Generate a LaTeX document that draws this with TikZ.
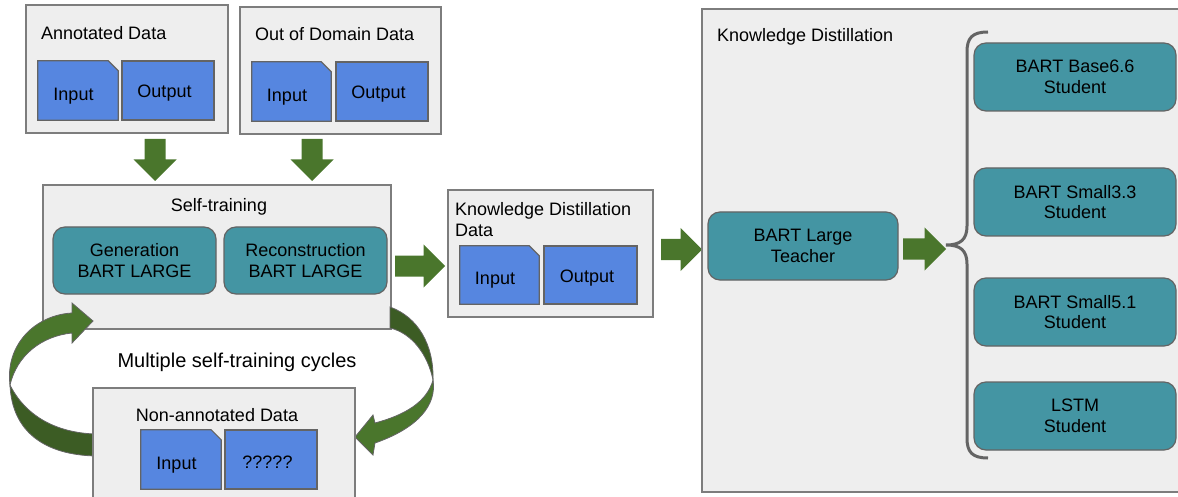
\documentclass[tikz,border=0pt]{standalone}
\usepackage{fontspec}
\setmainfont{Liberation Sans}
\definecolor{panelfill}{RGB}{238,238,238}
\definecolor{panelline}{RGB}{125,125,125}
\definecolor{docblue}{RGB}{86,134,224}
\definecolor{boxline}{RGB}{100,100,100}
\definecolor{tealbox}{RGB}{68,149,163}
\definecolor{agreen}{RGB}{74,118,44}
\definecolor{dgreen}{RGB}{60,92,36}
\definecolor{bracegrey}{RGB}{100,100,100}

% document-shaped box: name, center, width, height, text
\newcommand\mydocnode[5]{%
  \node[inner sep=0pt,minimum width=#3,minimum height=#4] (#1) at (#2) {};
  \filldraw[docline] (#1.north west) -- ([xshift=-10pt]#1.north east) -- ([yshift=-10pt]#1.north east)
    -- (#1.south east) -- (#1.south west) -- cycle;
  \node[inner sep=0pt] (#1t) at ([xshift=-4.5pt,yshift=-5.5pt]#1) {#5};
}
% plain blue box: name, center, width, height, text
\newcommand\myoutnode[5]{%
  \node[docline,inner sep=0pt,minimum width=#3,minimum height=#4] (#1) at (#2) {};
  \node[inner sep=0pt] (#1t) at ([xshift=-3.5pt,yshift=-3pt]#1) {#5};
}
% right block arrow: x1, x2 (tip), y
\newcommand\myrarrow[3]{%
  \fill[agreen] (#1,#3-10.5) -- (#2-21.5,#3-10.5) -- (#2-21.5,#3-21.5) -- (#2,#3)
    -- (#2-21.5,#3+21.5) -- (#2-21.5,#3+10.5) -- (#1,#3+10.5) -- cycle;}
% down block arrow: x, y1, y2 (tip)
\newcommand\mydarrow[3]{%
  \fill[agreen] (#1-10.5,#2) -- (#1+10.5,#2) -- (#1+10.5,#3-21.5) -- (#1+21.5,#3-21.5)
    -- (#1,#3) -- (#1-21.5,#3-21.5) -- (#1-10.5,#3-21.5) -- cycle;}

\begin{document}
\begin{tikzpicture}[x=1pt,y=-1pt,
  font=\fontsize{18}{21}\selectfont,
  panel/.style={draw=panelline,line width=1.3pt,fill=panelfill,inner sep=0pt},
  docline/.style={draw=boxline,line width=1.2pt,fill=docblue},
  tbox/.style={draw=boxline,line width=1.2pt,fill=tealbox,rounded corners=12pt,
    align=center,inner sep=0pt,font=\fontsize{18}{20.5}\selectfont},
  curv/.style={draw=boxline,line width=0.8pt},
  title/.style={inner sep=0pt}
]
\useasboundingbox (0,0) rectangle (1178,497);

% Annotated data
\node[panel,minimum width=202,minimum height=128] (annp) at (127,69) {};
\node[title,anchor=west] (annt) at (41,33) {Annotated Data};
\mydocnode{ina}{78,90.5}{80}{59}{Input}
\myoutnode{outa}{168,90.5}{92}{59}{Output}

% Out of domain data
\node[panel,minimum width=201,minimum height=127] (oodp) at (340.5,70.5) {};
\node[title,anchor=west] (oodt) at (255,34) {Out of Domain Data};
\mydocnode{inb}{291.5,91.5}{79}{59}{Input}
\myoutnode{outb}{382,91.5}{92}{59}{Output}

% down arrows
\mydarrow{155}{139}{181}
\mydarrow{312}{139}{181}

% Self-training
\node[panel,minimum width=348,minimum height=144] (selfp) at (217,257) {};
\node[title] (selft) at (219,207) {Self-training};
\node[tbox,minimum width=163,minimum height=67] (gen) at (134.5,260.5) {Generation\\BART LARGE};
\node[tbox,minimum width=163,minimum height=67] (rec) at (305.5,260.5) {Reconstruction\\BART LARGE};

% curved arrows (left: up into self-training)
\filldraw[curv,fill=dgreen] (10,385) .. controls (12,432) and (45,455) .. (96,456)
  -- (96,434) .. controls (55,433) and (25,415) .. (10,385) -- cycle;
\filldraw[curv,fill=agreen] (10,385) .. controls (5,345) and (35,315) .. (72,313)
  -- (72,303) -- (93,321) -- (72,343) -- (72,333)
  .. controls (42,336) and (17,355) .. (10,385) -- cycle;
% right: down into non-annotated
\filldraw[curv,fill=dgreen] (390,307) .. controls (418,317) and (434,345) .. (433,380)
  .. controls (428,355) and (412,333) .. (390,328) -- cycle;
\filldraw[curv,fill=agreen] (433,380) .. controls (437,405) and (418,428) .. (375,443)
  -- (373,455) -- (355,437) -- (373,415) -- (375,423)
  .. controls (405,415) and (427,402) .. (433,380) -- cycle;

\node[font=\fontsize{20}{24}\selectfont,inner sep=0pt] (cyc) at (237,362) {Multiple self-training cycles};

% Non-annotated data
\node[panel,minimum width=262,minimum height=122] (nonp) at (224,449) {};
\node[title] (nont) at (217,415) {Non-annotated Data};
\mydocnode{inn}{181,459.5}{80}{59}{Input}
\myoutnode{outn}{271,459.5}{92}{59}{?????}

% arrow to KD data
\myrarrow{395}{445}{266}

% KD data
\node[panel,minimum width=205,minimum height=127] (kddp) at (550.5,253.5) {};
\node[title,anchor=west,align=left] (kddt) at (455,220) {Knowledge Distillation\\Data};
\mydocnode{ink}{499.5,275}{79}{58}{Input}
\myoutnode{outk}{590.5,275}{93}{58}{Output}

% arrow to KD
\myrarrow{661}{702}{249.5}

% Knowledge distillation panel
\node[panel,minimum width=488,minimum height=483] (kdp) at (946,250.5) {};
\node[title,anchor=west] (kdt) at (717,36.5) {Knowledge Distillation};
\node[tbox,minimum width=190,minimum height=68] (teach) at (803,246) {BART Large\\Teacher};
\myrarrow{903}{946}{249}

% brace
\draw[bracegrey,line width=3pt] (988,32) .. controls (972,32) and (967,38) .. (967,52)
  -- (967,226) .. controls (967,240) and (960,245) .. (946,245)
  .. controls (960,245) and (967,250) .. (967,264)
  -- (967,438) .. controls (967,452) and (972,458) .. (988,458);

% students
\node[tbox,minimum width=202,minimum height=68] (st1) at (1075,77) {BART Base6.6\\Student};
\node[tbox,minimum width=202,minimum height=68] (st2) at (1075,202) {BART Small3.3\\Student};
\node[tbox,minimum width=202,minimum height=68] (st3) at (1075,312) {BART Small5.1\\Student};
\node[tbox,minimum width=202,minimum height=68] (st4) at (1075,416) {LSTM\\Student};
\end{tikzpicture}
\end{document}
